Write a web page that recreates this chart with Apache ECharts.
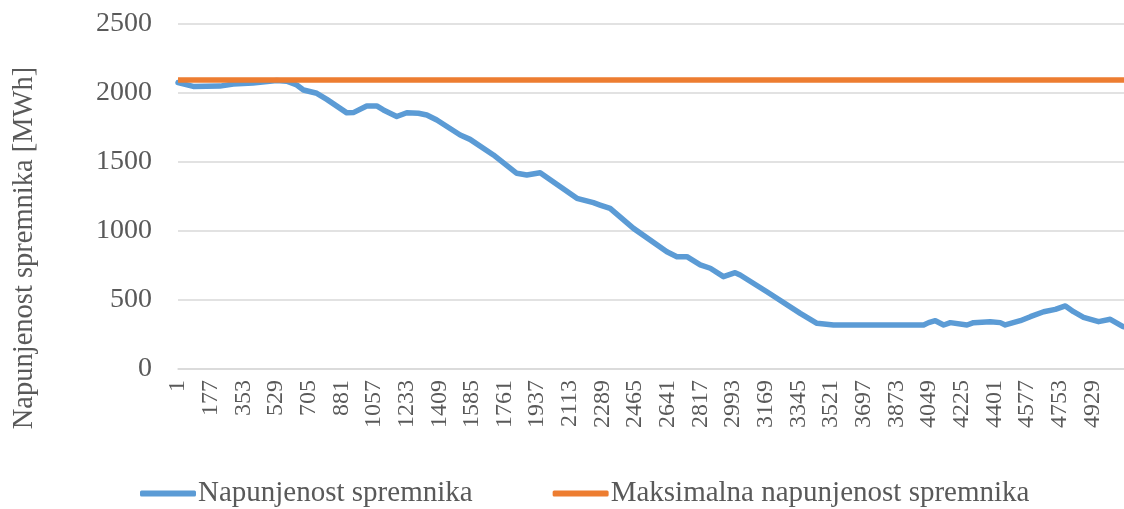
<!DOCTYPE html>
<html>
<head>
<meta charset="utf-8">
<script src="https://cdn.jsdelivr.net/npm/echarts@6/dist/echarts.min.js"></script>
<style>
  html, body { margin: 0; padding: 0; background: #ffffff; }
  #chart { width: 1124px; height: 509px; }
</style>
</head>
<body>
<div id="chart"></div>
<script>
// Hour index of each reading (x) and storage level in MWh (y)
const hours = [
  1, 83, 227, 299, 405, 533, 587, 641, 677, 749, 803, 911, 946, 1018, 1072,
  1108, 1180, 1234, 1297, 1342, 1396, 1522, 1575, 1701, 1827, 1881, 1953,
  2151, 2240, 2276, 2330, 2456, 2636, 2690, 2744, 2816, 2870, 2941, 3004,
  3031, 3175, 3355, 3445, 3534, 4020, 4047, 4083, 4128, 4164, 4254, 4289,
  4379, 4433, 4460, 4541, 4595, 4667, 4730, 4784, 4828, 4882, 4963, 5026, 5095
];
const storageLevel = [
  2075, 2048, 2050, 2065, 2072, 2090, 2085, 2058, 2022, 1998, 1954, 1856, 1858, 1906, 1906,
  1877, 1830, 1857, 1853, 1841, 1804, 1696, 1664, 1551, 1418, 1406, 1422,
  1237, 1205, 1188, 1164, 1019, 850, 814, 814, 754, 730, 669, 698,
  681, 560, 403, 331, 319, 319, 336, 350, 319, 336, 319, 336,
  343, 336, 319, 350, 379, 415, 432, 457, 415, 374, 343, 360, 307
];
// Storage capacity limit
const capacityHours = [1, 5100];
const capacityLevel = [2095, 2095];

// Hour labels shown under the horizontal axis
const xTickLabels = [
  1, 177, 353, 529, 705, 881, 1057, 1233, 1409, 1585, 1761, 1937, 2113, 2289, 2465,
  2641, 2817, 2993, 3169, 3345, 3521, 3697, 3873, 4049, 4225, 4401, 4577, 4753, 4929
];
const xMin = 0.9, xMax = 5100;
const yMin = 0, yMax = 2500, yStep = 500;

const seriesNames = ['Napunjenost spremnika', 'Maksimalna napunjenost spremnika'];
const yTitle = 'Napunjenost spremnika [MWh]';

const pair = (xs, ys) => xs.map((x, i) => [x, ys[i]]);

const font = 'Liberation Serif, Times New Roman, serif';
const textColor = '#595959';

const chart = echarts.init(document.getElementById('chart'), null, { renderer: 'canvas' });
chart.setOption({
  animation: false,
  backgroundColor: '#ffffff',
  grid: { left: 178, right: 0, top: 24, bottom: 140, containLabel: false },
  // Vertical axis title, rotated to read bottom-to-top
  graphic: [{
    type: 'text',
    x: 25,
    y: 248,
    rotation: Math.PI / 2,
    style: {
      text: yTitle,
      fontFamily: font,
      fontSize: 28.5,
      fill: textColor,
      align: 'center',
      verticalAlign: 'middle'
    }
  }],
  legend: {
    left: 135,
    top: 474,
    icon: 'roundRect',
    itemWidth: 56,
    itemHeight: 6,
    itemGap: 80,
    textStyle: { fontFamily: font, fontSize: 29, color: textColor, padding: [0, 0, 0, -3] },
    data: seriesNames
  },
  xAxis: {
    type: 'value',
    min: xMin,
    max: xMax,
    axisLine: { show: true, lineStyle: { color: '#d9d9d9', width: 1.5 } },
    axisTick: { show: false },
    splitLine: { show: false },
    axisLabel: {
      customValues: xTickLabels,
      rotate: 90,
      margin: 11,
      formatter: v => String(v),
      fontFamily: font,
      fontSize: 24,
      color: textColor
    }
  },
  yAxis: {
    type: 'value',
    min: yMin,
    max: yMax,
    interval: yStep,
    axisLine: { show: false },
    axisTick: { show: false },
    splitLine: { lineStyle: { color: '#d9d9d9', width: 1.5 } },
    axisLabel: { margin: 26, formatter: v => String(v), fontFamily: font, fontSize: 28, color: textColor }
  },
  series: [
    {
      name: seriesNames[0],
      type: 'line',
      data: pair(hours, storageLevel),
      showSymbol: false,
      lineStyle: { color: '#5b9bd5', width: 5.5, join: 'round', cap: 'round' },
      itemStyle: { color: '#5b9bd5' }
    },
    {
      name: seriesNames[1],
      type: 'line',
      data: pair(capacityHours, capacityLevel),
      showSymbol: false,
      lineStyle: { color: '#ed7d31', width: 5.5 },
      itemStyle: { color: '#ed7d31' }
    }
  ]
});
</script>
</body>
</html>
